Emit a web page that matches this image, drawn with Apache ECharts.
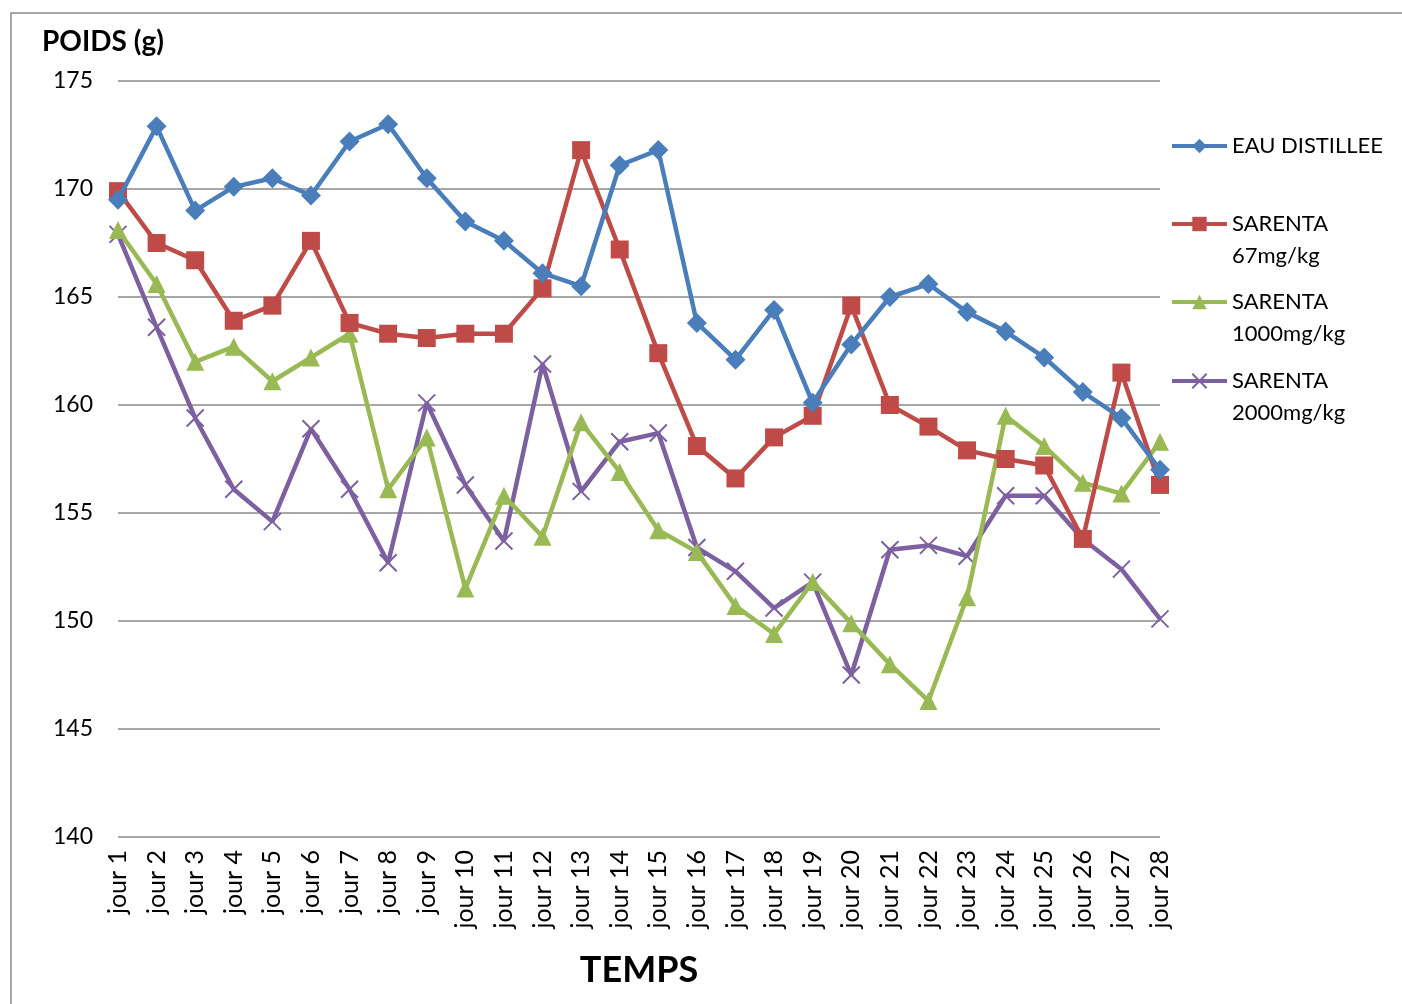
<!DOCTYPE html>
<html>
<head>
<meta charset="utf-8">
<script src="https://cdn.jsdelivr.net/npm/echarts@6/dist/echarts.min.js"></script>
<style>html,body{margin:0;padding:0;background:#fff}#c{width:1402px;height:1004px}</style>
</head>
<body>
<div id="c"></div>
<script>
const categories = ['jour 1','jour 2','jour 3','jour 4','jour 5','jour 6','jour 7','jour 8','jour 9','jour 10','jour 11','jour 12','jour 13','jour 14','jour 15','jour 16','jour 17','jour 18','jour 19','jour 20','jour 21','jour 22','jour 23','jour 24','jour 25','jour 26','jour 27','jour 28'];
const eauDistillee = [169.5,172.9,169.0,170.1,170.5,169.7,172.2,173.0,170.5,168.5,167.6,166.1,165.5,171.1,171.8,163.8,162.1,164.4,160.1,162.8,165.0,165.6,164.3,163.4,162.2,160.6,159.4,157.0];
const sarenta67 = [169.9,167.5,166.7,163.9,164.6,167.6,163.8,163.3,163.1,163.3,163.3,165.4,171.8,167.2,162.4,158.1,156.6,158.5,159.5,164.6,160.0,159.0,157.9,157.5,157.2,153.8,161.5,156.3];
const sarenta1000 = [168.1,165.6,162.0,162.7,161.1,162.2,163.3,156.1,158.5,151.5,155.8,153.9,159.2,156.9,154.2,153.2,150.7,149.4,151.8,149.9,148.0,146.3,151.1,159.5,158.1,156.4,155.9,158.3];
const sarenta2000 = [167.9,163.6,159.4,156.1,154.6,158.9,156.1,152.7,160.1,156.3,153.7,161.9,156.0,158.3,158.7,153.4,152.3,150.6,151.8,147.5,153.3,153.5,153.0,155.8,155.8,153.8,152.4,150.1];
const yTicks = {min:140, max:175, interval:5};

const FONT = 'Lato';
const names = ['EAU DISTILLEE','SARENTA 67mg/kg','SARENTA 1000mg/kg','SARENTA 2000mg/kg'];
const colors = ['#4A7EBB','#BE4B48','#98B954','#7D60A0'];
const symbols = ['diamond','rect','triangle','path://M0,0L10,10M10,0L0,10'];
const sizes = [20,18,18,17];
const datas = [eauDistillee, sarenta67, sarenta1000, sarenta2000];

const chart = echarts.init(document.getElementById('c'));
const legendTops = [130, 176, 254, 333];
const legends = names.map((n, i) => ({
  data: [n],
  orient: 'vertical',
  left: 1170,
  top: legendTops[i],
  padding: 0,
  itemWidth: 55,
  itemHeight: 18,
  itemGap: 4,
  selectedMode: false,
  lineStyle: {width: 4},
  formatter: (name) => name.indexOf('SARENTA ') === 0 ? '\n' + name.replace('SARENTA ', 'SARENTA\n') : name,
  textStyle: {fontFamily: FONT, fontSize: 22, color: '#000', lineHeight: 32}
}));

chart.setOption({
  animation: false,
  title: [{
    text: 'POIDS (g)', left: 37, top: 23,
    textStyle: {fontFamily: FONT, fontSize: 28, fontWeight: 'bold', color: '#000'}
  }],
  legend: legends,
  graphic: [{
    type: 'rect', shape: {x: 11, y: 13, width: 1420, height: 1020},
    style: {fill: 'none', stroke: '#8C8C8C', lineWidth: 1.5}, silent: true
  }],
  grid: {left: 118, right: 242, top: 81, bottom: 167, outerBoundsMode: 'none'},
  xAxis: {
    type: 'category', data: categories, boundaryGap: false,
    name: 'TEMPS', nameLocation: 'middle', nameGap: 115,
    nameTextStyle: {fontFamily: FONT, fontSize: 36, fontWeight: 'bold', color: '#000'},
    axisLine: {show: false}, axisTick: {show: false},
    axisLabel: {rotate: 90, interval: 0, margin: 13, fontFamily: FONT, fontSize: 25, color: '#000'}
  },
  yAxis: {
    type: 'value', min: yTicks.min, max: yTicks.max, interval: yTicks.interval,
    axisLine: {show: false}, axisTick: {show: false},
    axisLabel: {margin: 25, fontFamily: FONT, fontSize: 23, color: '#000'},
    splitLine: {lineStyle: {color: '#8A8A8A', width: 1.5}}
  },
  series: names.map((n, i) => ({
    name: n, type: 'line', data: datas[i],
    symbol: symbols[i], symbolSize: sizes[i], showAllSymbol: true,
    lineStyle: {color: colors[i], width: 4.5},
    itemStyle: i === 3 ? {color: colors[i], borderColor: colors[i], borderWidth: 2} : {color: colors[i], borderWidth: 0},
    z: 10 - i
  }))
});
</script>
</body>
</html>
